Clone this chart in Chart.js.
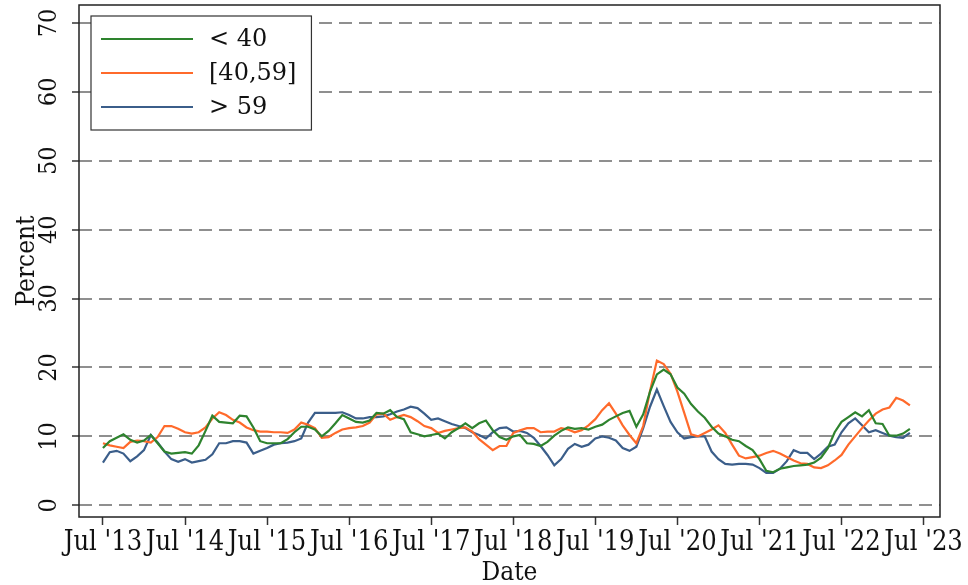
<!DOCTYPE html>
<html>
<head>
<meta charset="utf-8">
<script src="https://cdn.jsdelivr.net/npm/chart.js@4.4.1/dist/chart.umd.min.js"></script>
<style>
  html, body { margin: 0; padding: 0; background: #fff; }
</style>
</head>
<body>
<canvas id="rateChart" width="968" height="585"></canvas>
<script>
// month 0 = Jul 2013, one value per month
const seriesNames = ["< 40", "[40,59]", "> 59"];
const seriesColors = ["#2e832e", "#ff6a2b", "#3b5e8a"];

const under40 = [8.3, 9.3, 9.8, 10.3, 9.5, 9.1, 9.4, 10.2, 9.0, 7.8, 7.5, 7.6, 7.7, 7.5, 8.7, 10.8, 13.0, 12.1, 12.0, 11.9,
  13.0, 12.9, 11.3, 9.3, 9.0, 9.0, 9.0, 9.6, 10.6, 11.4, 11.4, 11.0, 10.0, 10.8, 11.9, 13.1, 12.6, 12.1, 12.0, 12.3,
  13.4, 13.3, 13.8, 12.8, 12.5, 10.6, 10.3, 10.0, 10.2, 10.4, 9.7, 10.6, 11.2, 11.9, 11.2, 11.9, 12.3, 10.9, 9.9,
  9.5, 10.0, 10.2, 9.0, 8.9, 8.6, 9.2, 10.1, 10.8, 11.3, 11.1, 11.2, 11.0, 11.4, 11.7, 12.4, 12.9, 13.4, 13.7, 11.4,
  13.2, 16.5, 19.0, 19.7, 19.0, 17.1, 16.2, 14.7, 13.6, 12.7, 11.4, 10.4, 10.0, 9.5, 9.3, 8.6, 8.0, 6.7, 5.0, 4.8,
  5.3, 5.5, 5.7, 5.8, 5.9, 6.2, 6.9, 8.3, 10.6, 12.1, 12.8, 13.5, 12.9, 13.8, 11.9, 11.8, 10.1, 10.1, 10.4, 11.1];

const age40to59 = [9.0, 8.7, 8.5, 8.3, 9.2, 9.4, 9.3, 9.1, 9.9, 11.5, 11.5, 11.1, 10.6, 10.4, 10.6, 11.3, 12.6, 13.5, 13.1, 12.4,
  12.0, 11.3, 10.9, 10.7, 10.7, 10.6, 10.6, 10.5, 11.0, 12.0, 11.7, 11.2, 9.8, 9.9, 10.5, 11.0, 11.2, 11.3, 11.5, 12.0,
  13.2, 13.3, 12.4, 12.8, 13.1, 12.8, 12.2, 11.5, 11.2, 10.5, 10.8, 11.0, 11.2, 11.3, 10.7, 9.6, 8.8, 8.0, 8.6,
  8.6, 10.5, 10.9, 11.2, 11.2, 10.6, 10.7, 10.7, 11.2, 11.0, 10.6, 10.9, 11.6, 12.5, 13.8, 14.8, 13.3, 11.6, 10.2, 9.0,
  11.5, 16.6, 21.0, 20.5, 19.1, 16.5, 13.4, 10.3, 10.0, 10.5, 11.0, 11.6, 10.5, 8.8, 7.2, 6.8, 7.0, 7.2, 7.6, 7.9,
  7.5, 7.0, 6.5, 6.1, 6.0, 5.5, 5.4, 5.8, 6.5, 7.3, 8.8, 10.0, 11.2, 12.3, 13.3, 13.9, 14.2, 15.6, 15.2, 14.5];

const over59 = [6.2, 7.7, 7.9, 7.5, 6.4, 7.1, 8.0, 10.2, 9.1, 7.8, 6.7, 6.3, 6.7, 6.2, 6.4, 6.6, 7.4, 9.0, 9.0, 9.3,
  9.3, 9.1, 7.5, 7.9, 8.3, 8.8, 9.0, 9.1, 9.3, 9.7, 12.0, 13.4, 13.4, 13.4, 13.4, 13.5, 13.1, 12.6, 12.6, 12.8,
  12.8, 12.9, 13.2, 13.6, 13.9, 14.3, 14.1, 13.3, 12.4, 12.6, 12.2, 11.8, 11.5, 11.2, 10.6, 10.2, 9.7, 10.6, 11.2,
  11.3, 10.7, 10.8, 10.5, 9.8, 8.6, 7.3, 5.8, 6.7, 8.2, 8.9, 8.5, 8.8, 9.7, 10.0, 9.8, 9.4, 8.3, 7.9, 8.5,
  11.2, 14.3, 16.8, 14.4, 12.1, 10.6, 9.7, 9.9, 10.0, 10.0, 7.8, 6.7, 6.0, 5.9, 6.0, 6.0, 5.9, 5.4, 4.7, 4.7,
  5.3, 6.4, 8.0, 7.6, 7.6, 6.7, 7.5, 8.5, 8.8, 10.6, 11.9, 12.6, 11.6, 10.6, 10.9, 10.5, 10.1, 9.9, 9.8, 10.5];

const tickMonths = [0, 12, 24, 36, 48, 60, 72, 84, 96, 108, 120];
const tickLabels = ["Jul '13", "Jul '14", "Jul '15", "Jul '16", "Jul '17", "Jul '18",
  "Jul '19", "Jul '20", "Jul '21", "Jul '22", "Jul '23"];
const yTicks = [0, 10, 20, 30, 40, 50, 60, 70];

const months = under40.map((_, i) => i);
const axisFamily = "'DejaVu Serif Condensed', 'DejaVu Serif', serif";
const legendFamily = "'DejaVu Serif', serif";

// plot frame + boxed legend in the upper left, drawn on top
const frameAndLegend = {
  id: "frameAndLegend",
  afterDraw(chart) {
    const { ctx, chartArea } = chart;
    ctx.save();
    ctx.strokeStyle = "#222";
    ctx.lineWidth = 1.5;
    ctx.strokeRect(chartArea.left, chartArea.top, chartArea.right - chartArea.left, chartArea.bottom - chartArea.top);

    ctx.font = "24px " + legendFamily;
    const names = chart.data.datasets.map((d) => d.label);
    const textW = Math.max(...names.map((n) => ctx.measureText(n).width));
    const bx = chartArea.left + 12;
    const by = chartArea.top + 11;
    const rowH = 34;
    const bw = 10 + 92 + 16 + textW + 15;
    const bh = 23 * 2 + rowH * (names.length - 1);
    ctx.fillStyle = "#fff";
    ctx.fillRect(bx, by, bw, bh);
    ctx.strokeStyle = "#333";
    ctx.lineWidth = 1.2;
    ctx.strokeRect(bx, by, bw, bh);

    ctx.textBaseline = "middle";
    ctx.textAlign = "left";
    chart.data.datasets.forEach((d, i) => {
      const cy = by + 23 + i * rowH;
      ctx.strokeStyle = d.borderColor;
      ctx.lineWidth = 2;
      ctx.beginPath();
      ctx.moveTo(bx + 10, cy);
      ctx.lineTo(bx + 102, cy);
      ctx.stroke();
      ctx.fillStyle = "#111";
      ctx.fillText(d.label, bx + 118, cy + 1);
    });
    ctx.restore();
  },
};

const ctx = document.getElementById("rateChart").getContext("2d");

new Chart(ctx, {
  type: "line",
  data: {
    labels: months,
    datasets: [under40, age40to59, over59].map((vals, i) => ({
      label: seriesNames[i],
      data: vals,
      borderColor: seriesColors[i],
      backgroundColor: seriesColors[i],
      borderWidth: 2.2,
      pointRadius: 0,
      tension: 0,
    })),
  },
  options: {
    responsive: false,
    animation: false,
    layout: { padding: { left: 0, top: 5, right: 28, bottom: 0 } },
    plugins: {
      legend: { display: false },
      tooltip: { enabled: false },
    },
    scales: {
      x: {
        type: "linear",
        min: -3.5,
        max: 122.4,
        afterBuildTicks: (axis) => {
          axis.ticks = tickMonths.map((v) => ({ value: v }));
        },
        afterFit: (axis) => {
          axis.height = 68;
          axis.paddingLeft = 0;
          axis.paddingRight = 0;
        },
        ticks: {
          autoSkip: false,
          minRotation: 0,
          maxRotation: 0,
          padding: 2,
          color: "#111",
          font: { family: axisFamily, size: 27 },
          callback: (v, i) => tickLabels[i],
        },
        grid: {
          drawOnChartArea: false,
          drawTicks: true,
          tickLength: 8,
          tickColor: "#333",
          tickWidth: 1.5,
        },
        border: { display: false },
        title: {
          display: true,
          text: "Date",
          color: "#111",
          font: { family: axisFamily, size: 26 },
          padding: { top: 0, bottom: -4 },
        },
      },
      y: {
        min: -1.7,
        max: 72.6,
        afterBuildTicks: (axis) => {
          axis.ticks = yTicks.map((v) => ({ value: v }));
        },
        afterFit: (axis) => {
          axis.width = 79;
          axis.paddingTop = 0;
          axis.paddingBottom = 0;
        },
        ticks: {
          minRotation: 90,
          maxRotation: 90,
          crossAlign: "center",
          padding: 8,
          color: "#111",
          font: { family: axisFamily, size: 25 },
        },
        grid: {
          color: "#8f8f8f",
          lineWidth: 2,
          tickLength: 7,
          tickColor: "#333",
          tickWidth: 1.5,
          tickBorderDash: [],
        },
        border: { display: false, dash: [13, 7] },
        title: {
          display: true,
          text: "Percent",
          color: "#111",
          font: { family: axisFamily, size: 26 },
          padding: { top: 12, bottom: 0 },
        },
      },
    },
  },
  plugins: [frameAndLegend],
});
</script>
</body>
</html>
